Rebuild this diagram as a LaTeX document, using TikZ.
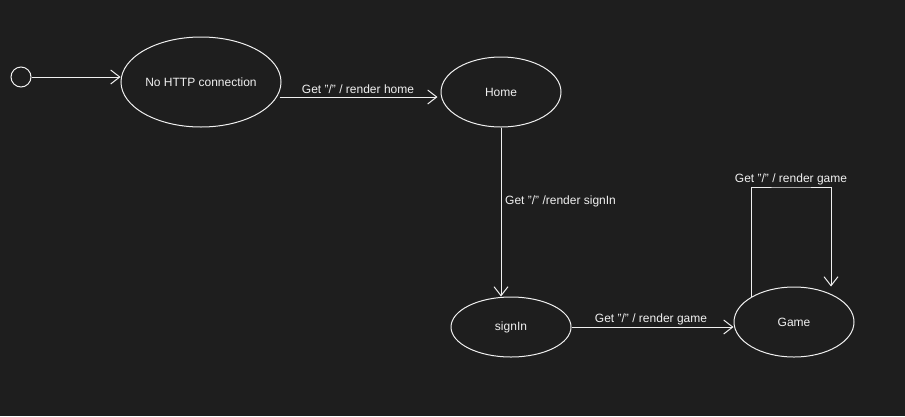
\documentclass[tikz,border=0pt]{standalone}
\usepackage{fontspec}
\setmainfont{Liberation Sans}
\usetikzlibrary{calc,shapes.geometric,arrows.meta}
\definecolor{bgcol}{HTML}{1E1E1E}
\definecolor{fgcol}{HTML}{F0F0F0}
\tikzset{
	state/.style={draw=fgcol, line width=1pt, ellipse, inner sep=0pt, text=fgcol, font=\fontsize{12}{14}\selectfont},
	trans/.style={draw=fgcol, line width=1pt, -{Straight Barb[length=9pt,width=14pt,line width=1pt]}},
	lbl/.style={text=fgcol, inner sep=0pt, font=\fontsize{12}{14}\selectfont}
}

\begin{document}
\begin{tikzpicture}[x=1pt,y=-1pt]
		%%%%% START %%%%%
		\fill[bgcol] (0, 0) rectangle (905, 416);
		\useasboundingbox (0, 0) rectangle (905, 416);
		
		\node[draw=fgcol, line width=1pt, circle, minimum size=20pt, inner sep=0pt] (init) at (21, 77) {};
		
		\node[state, minimum width=160pt, minimum height=90pt] (nohttp) at (201, 82) {\raisebox{-1pt}{No HTTP connection}};
		\node[state, minimum width=120pt, minimum height=70pt] (home) at (501, 92) {\raisebox{-1pt}{Home}};
		\node[state, minimum width=120pt, minimum height=60pt] (signin) at (511, 327) {\raisebox{-1pt}{signIn}};
		\node[state, minimum width=120pt, minimum height=70pt] (game) at (794, 322) {\raisebox{-1pt}{Game}};
		
		\draw[trans] (init.east) -- (init.east -| nohttp.west);
		
		\draw[trans] ($(nohttp.east)+(-2, 15)$) -- ($(home.west)+(-3, 5)$);
		\node[lbl] (homelbl) at (358, 89) {Get "/" / render home};
		
		\draw[trans] (home.south) -- (home.south |- signin.north);
		\node[lbl, anchor=west] (signinlbl) at (505, 201) {Get "/" /render signIn};
		
		\draw[trans] (signin.east) -- (signin.east -| game.west);
		\node[lbl] (gamelbl) at (651, 319) {Get "/" / render game};
		
		\coordinate (loopstart) at ($(game.north)+(-43, 10)$);
		\coordinate (loopend) at ($(game.north)+(37, 0)$);
		\draw[trans] (loopstart) |- (791, 187) -| (loopend);
		\node[lbl] (looplbl) at (791, 179) {Get "/" / render game};
		%%%%% END %%%%%
	\end{tikzpicture}
\end{document}
